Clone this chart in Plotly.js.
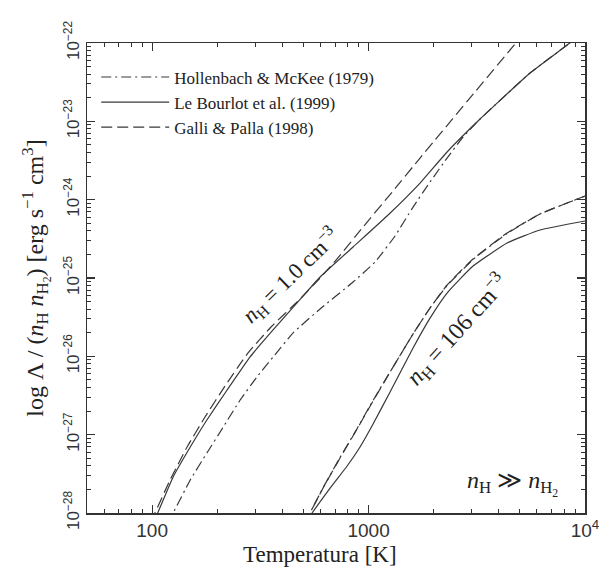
<!DOCTYPE html>
<html>
<head>
<meta charset="utf-8">
<script src="https://cdn.plot.ly/plotly-3.0.1.min.js"></script>
<style>
  html, body { margin: 0; padding: 0; background: #fff; }
  #chart { width: 599px; height: 574px; }
</style>
</head>
<body>
<div id="chart"></div>
<script>
// H2 cooling function per unit n_H n_H2, temperature in K, Λ in erg s^-1 cm^3

// n_H = 1.0 cm^-3
const hmLowT = [118, 125, 150, 179, 213, 255, 305, 362, 448, 597, 848, 1071, 1325, 1605, 1923, 2305, 2733, 3275, 5573, 8265, 10550];
const hmLowL = [7.45e-29, 1.0e-28, 2.64e-28, 5.83e-28, 1.25e-27, 2.77e-27, 5.45e-27, 9.8e-27, 1.99e-26, 4.02e-26, 8.89e-26, 1.60e-25, 3.44e-25, 8.05e-25, 1.68e-24, 3.40e-24, 6.31e-24, 1.07e-23, 4.14e-23, 9.4e-23, 1.6e-22];

const lbLowT = [100, 106, 125, 150, 179, 222, 283, 362, 467, 597, 848, 1217, 1729, 2305, 3275, 5573, 8265, 10550];
const lbLowL = [7.45e-29, 1.0e-28, 2.88e-28, 6.95e-28, 1.54e-27, 3.72e-27, 9.8e-27, 2.17e-26, 4.8e-26, 1.03e-25, 2.49e-25, 6.18e-25, 1.63e-24, 4.06e-24, 1.07e-23, 4.14e-23, 9.4e-23, 1.6e-22];

const gpLowT = [98.8, 103, 121, 145, 175.5, 217, 277, 358, 467, 597, 715, 943, 1297, 1729, 2029, 2943, 4752, 5573];
const gpLowL = [7.67e-29, 1.0e-28, 2.64e-28, 6.95e-28, 1.68e-27, 4.18e-27, 1.10e-26, 2.44e-26, 4.94e-26, 1.0e-25, 1.75e-25, 4.48e-25, 1.29e-24, 3.40e-24, 5.78e-24, 1.99e-23, 9.71e-23, 1.65e-22];

// n_H = 10^6 cm^-3
const hmHighT = [508, 536, 616, 738, 884, 1049, 1257, 1605, 1923, 2305, 3038, 4364, 6199, 8265, 10000];
const hmHighL = [7.6e-29, 1.0e-28, 2.1e-28, 5.1e-28, 1.19e-27, 2.74e-27, 6.31e-27, 1.93e-26, 4.14e-26, 8.0e-26, 1.72e-25, 3.70e-25, 6.56e-25, 9.07e-25, 1.11e-24];

const lbHighT = [511, 548, 664, 796, 913, 1049, 1257, 1605, 1923, 2305, 3038, 4364, 6199, 10000];
const lbHighL = [7.45e-29, 1.0e-28, 2.08e-28, 3.98e-28, 6.95e-28, 1.37e-27, 3.50e-27, 1.28e-26, 3.08e-26, 6.43e-26, 1.42e-25, 2.80e-25, 4.10e-25, 5.34e-25];

const gpHighT = [508.6, 536.5, 616, 738, 884.5, 1049, 1257, 1605, 1923, 2305, 3038, 4364, 6199, 8265, 10000];
const gpHighL = [7.45e-29, 1.0e-28, 2.08e-28, 5.03e-28, 1.18e-27, 2.69e-27, 6.31e-27, 1.93e-26, 4.14e-26, 8.14e-26, 1.75e-25, 3.75e-25, 6.56e-25, 9.07e-25, 1.11e-24];

const seriesNames = ['Hollenbach &amp; McKee (1979)', 'Le Bourlot et al. (1999)', 'Galli &amp; Palla (1998)'];

const xTickVals = [100, 1000, 10000];
const xTickText = ['100', '1000', '10<sup>4</sup>'];
const yTickVals = [1e-28, 1e-27, 1e-26, 1e-25, 1e-24, 1e-23, 1e-22];
const yTickText = ['10<sup>−28</sup>', '10<sup>−27</sup>', '10<sup>−26</sup>', '10<sup>−25</sup>', '10<sup>−24</sup>', '10<sup>−23</sup>', '10<sup>−22</sup>'];

const ink = '#383838';
const txt = '#222';
const serif = 'Liberation Serif, Times New Roman, serif';
const sans = 'Liberation Sans, Arial, sans-serif';
const DASHDOT = '10px,4px,2px,4px';
const DASH = '11px,5px';

function curve(x, y, dash, name, legend) {
  return {
    x: x, y: y, type: 'scatter', mode: 'lines',
    name: name, showlegend: legend,
    line: { color: ink, width: 1.2, dash: dash, shape: 'spline', smoothing: 0.4 },
    hoverinfo: 'skip'
  };
}

const data = [
  curve(hmLowT, hmLowL, DASHDOT, seriesNames[0], true),
  curve(lbLowT, lbLowL, 'solid', seriesNames[1], true),
  curve(gpLowT, gpLowL, DASH, seriesNames[2], true),
  curve(hmHighT, hmHighL, DASHDOT, seriesNames[0], false),
  curve(lbHighT, lbHighL, 'solid', seriesNames[1], false),
  curve(gpHighT, gpHighL, DASH, seriesNames[2], false)
];

const axisCommon = {
  type: 'log',
  showgrid: false, zeroline: false,
  showline: true, linecolor: '#333', linewidth: 1.5,
  mirror: 'allticks',
  ticks: 'inside', ticklen: 8, tickwidth: 1.2, tickcolor: '#333',
  tickmode: 'array',
  ticklabeloverflow: 'allow',
  minor: { ticks: 'inside', ticklen: 4, tickwidth: 1, tickcolor: '#333', dtick: 'D1', showgrid: false }
};

const layout = {
  width: 599, height: 574,
  margin: { l: 87, r: 14, t: 43, b: 61 },
  paper_bgcolor: '#fff', plot_bgcolor: '#fff',
  showlegend: true,
  legend: {
    x: 0.0185, y: 0.965, xanchor: 'left', yanchor: 'top',
    bgcolor: 'rgba(0,0,0,0)', borderwidth: 0,
    font: { family: serif, size: 17, color: txt },
    itemwidth: 68, tracegroupgap: 0
  },
  xaxis: Object.assign({}, axisCommon, {
    range: [Math.log10(50), 4],
    tickvals: xTickVals, ticktext: xTickText,
    tickfont: { family: sans, size: 19, color: '#333' }
  }),
  yaxis: Object.assign({}, axisCommon, {
    range: [-28, -22],
    tickvals: yTickVals, ticktext: yTickText,
    tickangle: -90,
    tickfont: { family: sans, size: 17, color: '#333' },
    title: {
      text: 'log Λ / (<i>n</i><sub>H</sub> <i>n</i><sub>H<sub>2</sub></sub>) [erg s<sup>−1</sup> cm<sup>3</sup>]',
      font: { family: serif, size: 24, color: txt }, standoff: 10
    }
  }),
  annotations: [
    {
      xref: 'paper', yref: 'paper', x: 0.468, y: -0.089,
      xanchor: 'center', yanchor: 'middle',
      text: 'Temperatura [K]', showarrow: false,
      font: { family: serif, size: 23, color: txt }
    },
    {
      xref: 'paper', yref: 'paper', x: 0.408, y: 0.506,
      xanchor: 'center', yanchor: 'middle',
      text: '<i>n</i><sub>H</sub> = 1.0 cm<sup>−3</sup>', showarrow: false,
      textangle: -44, font: { family: serif, size: 22.5, color: txt }
    },
    {
      xref: 'paper', yref: 'paper', x: 0.743, y: 0.389,
      xanchor: 'center', yanchor: 'middle',
      text: '<i>n</i><sub>H</sub> = 106 cm<sup>−3</sup>', showarrow: false,
      textangle: -48, font: { family: serif, size: 24, color: txt }
    },
    {
      xref: 'paper', yref: 'paper', x: 0.855, y: 0.062,
      xanchor: 'center', yanchor: 'middle',
      text: '<i>n</i><sub>H</sub> ≫ <i>n</i><sub>H<sub>2</sub></sub>', showarrow: false,
      font: { family: serif, size: 24, color: txt }
    }
  ]
};

Plotly.newPlot('chart', data, layout, { staticPlot: true, displayModeBar: false });
</script>
</body>
</html>
